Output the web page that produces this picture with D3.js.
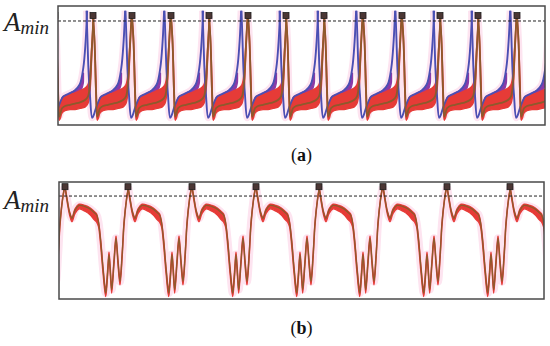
<!DOCTYPE html>
<html>
<head>
<meta charset="utf-8">
<script src="https://cdn.jsdelivr.net/npm/d3@7"></script>
<style>
  body { margin: 0; background: #fff; }
  svg { display: block; }
</style>
</head>
<body>
<div id="chart"></div>
<script>
// red peak times (a) and (b), in samples from left edge of box
const topPeaks = [-3, 35, 74, 113, 151, 190, 228, 266, 305, 344, 382, 420, 459, 498];
const bottomPeaks = [-58, 6, 69, 133, 197, 260, 324, 388, 451, 515];

// panel (a): one cycle, t relative to red peak -> [t, low, mean, high]
const topRed = [
  [0, 90, 92, 93], [1.5, 66, 71, 74], [3, 22, 29, 40], [4.3, 4, 7, 14],
  [5.5, 6, 10, 18], [7, 10, 14, 23], [10, 12, 16, 25], [15, 13, 17, 26],
  [20, 13, 18, 27], [25, 14, 19, 29], [30, 15, 21, 31], [33, 18, 24, 34],
  [35, 28, 36, 44], [36.5, 52, 59, 64], [37.8, 76, 80, 82], [38.6, 90, 92, 93]
];
// panel (a): blue trace, same time base
const topBlue = [
  [-6.5, 96], [-5.5, 71], [-4.5, 46], [-3, 25], [-0.8, 6], [1, 9], [3.3, 15],
  [8.3, 24], [13, 26], [19.7, 29], [24.7, 34], [28.3, 48], [30.6, 70], [32.1, 96]
];
// panel (a): purple traces between blue and red band -> [t, low, high]
const topPurple = [
  [6, 14, 16], [10, 20, 23], [15, 24, 27], [20, 26, 29], [24, 28, 32], [27, 31, 38], [28.5, 36, 44]
];

// panel (b): one cycle -> [t, low, mean, high]
const bottomRed = [
  [0, 95, 96, 97], [2.3, 82, 84, 85], [4.5, 72, 74, 75], [7, 66, 69, 70],
  [10, 73, 76, 77], [14, 77, 80, 81], [20, 75, 79, 80], [25, 72, 77, 78],
  [29, 68, 74, 75], [31.5, 66, 72, 73], [33.4, 62, 66, 67], [35.7, 45, 49, 51],
  [38, 22, 26, 28], [40.7, 2, 5, 8], [42.5, 18, 21, 24], [44, 35, 38, 40],
  [45.5, 18, 21, 24], [46.7, 5, 8, 10], [49, 29, 32, 34], [51, 49, 52, 54],
  [53, 29, 32, 34], [55, 12, 15, 18], [57.3, 37, 40, 42], [59, 62, 65, 66],
  [61.5, 84, 85, 86], [63.6, 95, 96, 97]
];

const aMin = { top: 87.4, bottom: 88 };
const peakMark = { top: 92, bottom: 96 };

const width = 550, height = 346;
const svg = d3.select("#chart").append("svg")
  .attr("width", width).attr("height", height);

const colors = {
  pink: "#fde4f0", red: "#e63b37", brown: "#8d5a2c",
  blue: "#4b4fb3", purple: "#8b3aa6", frame: "#4a4a4a"
};

function panel(cfg) {
  const x = d3.scaleLinear().domain(cfg.xDomain).range([cfg.left, cfg.right]);
  const y = d3.scaleLinear().domain([0, 100]).range([cfg.bottom, cfg.top]);

  const g = svg.append("g");
  g.append("clipPath").attr("id", cfg.id)
    .append("rect")
    .attr("x", cfg.left).attr("y", cfg.top)
    .attr("width", cfg.right - cfg.left).attr("height", cfg.bottom - cfg.top);

  const plot = g.append("g").attr("clip-path", "url(#" + cfg.id + ")");

  const lineMid = d3.line()
    .x(d => x(d.p + d[0])).y(d => y(d[2]))
    .curve(d3.curveCatmullRom.alpha(0.5));
  const bandArea = d3.area()
    .x(d => x(d.p + d[0])).y0(d => y(d[1])).y1(d => y(d[d.length - 1]))
    .curve(d3.curveCatmullRom.alpha(0.5));
  const line2 = d3.line()
    .x(d => x(d.p + d[0])).y(d => y(d[1]))
    .curve(d3.curveCatmullRom.alpha(0.5));

  const shift = (rows, p) => rows.map(r => { const c = r.slice(); c.p = p; return c; });

  cfg.peaks.forEach(p => {
    // faint ensemble halo
    plot.append("path").attr("d", lineMid(shift(cfg.red, p)))
      .attr("fill", "none").attr("stroke", colors.pink)
      .attr("stroke-width", cfg.halo).attr("stroke-linejoin", "round");
    if (cfg.blue) {
      plot.append("path").attr("d", line2(shift(cfg.blue, p)))
        .attr("fill", "none").attr("stroke", colors.pink)
        .attr("stroke-width", cfg.halo).attr("stroke-linejoin", "round");
    }
  });

  cfg.peaks.forEach(p => {
    if (cfg.purple) {
      plot.append("path").attr("d", bandArea(shift(cfg.purple, p)))
        .attr("fill", colors.purple).attr("stroke", colors.purple)
        .attr("stroke-width", 1.2);
    }
    plot.append("path").attr("d", bandArea(shift(cfg.red, p)))
      .attr("fill", colors.red).attr("stroke", colors.red)
      .attr("stroke-width", 1.3).attr("stroke-linejoin", "round");
  });

  if (cfg.blue) {
    cfg.peaks.forEach(p => {
      plot.append("path").attr("d", line2(shift(cfg.blue, p)))
        .attr("fill", "none").attr("stroke", colors.blue)
        .attr("stroke-width", 1.9).attr("stroke-linejoin", "round");
    });
  }

  cfg.peaks.forEach(p => {
    plot.append("path").attr("d", lineMid(shift(cfg.red, p)))
      .attr("fill", "none").attr("stroke", colors.brown)
      .attr("stroke-width", cfg.midWidth).attr("stroke-linejoin", "round");
  });

  // threshold line
  g.append("line")
    .attr("x1", cfg.left).attr("x2", cfg.right)
    .attr("y1", y(cfg.aMin)).attr("y2", y(cfg.aMin))
    .attr("stroke", "#222").attr("stroke-width", 1)
    .attr("stroke-dasharray", "3,2");

  // peak markers
  plot.selectAll("rect.mark")
    .data(cfg.peaks)
    .enter().append("rect")
    .attr("class", "mark")
    .attr("x", d => x(d) - 3).attr("y", y(cfg.mark) - 3)
    .attr("width", 6).attr("height", 6)
    .attr("fill", "#4b3634").attr("stroke", "#1e1e1e").attr("stroke-width", 0.8);

  // frame
  g.append("rect")
    .attr("x", cfg.left).attr("y", cfg.top)
    .attr("width", cfg.right - cfg.left).attr("height", cfg.bottom - cfg.top)
    .attr("fill", "none").attr("stroke", colors.frame).attr("stroke-width", 1.5);

  // A_min label
  const lab = svg.append("text")
    .attr("x", 4).attr("y", cfg.labelY)
    .attr("font-family", "Liberation Serif, serif")
    .attr("font-style", "italic").attr("fill", "#222");
  lab.append("tspan").attr("font-size", 27).text("A");
  lab.append("tspan").attr("font-size", 19).attr("dy", 3).text("min");

  // caption
  const cap = svg.append("text")
    .attr("x", (cfg.left + cfg.right) / 2).attr("y", cfg.capY)
    .attr("text-anchor", "middle")
    .attr("font-family", "Liberation Serif, serif")
    .attr("font-size", 18).attr("fill", "#111");
  cap.append("tspan").text("(");
  cap.append("tspan").attr("font-weight", "bold").text(cfg.caption);
  cap.append("tspan").text(")");
}

panel({
  id: "clipA", left: 58, right: 545, top: 6, bottom: 125,
  xDomain: [0, 487], peaks: topPeaks, red: topRed, blue: topBlue, purple: topPurple,
  aMin: aMin.top, mark: peakMark.top, halo: 7, midWidth: 1.8,
  labelY: 31, capY: 161, caption: "a"
});

panel({
  id: "clipB", left: 59, right: 544, top: 182, bottom: 299,
  xDomain: [0, 485], peaks: bottomPeaks, red: bottomRed,
  aMin: aMin.bottom, mark: peakMark.bottom, halo: 8, midWidth: 1.3,
  labelY: 209, capY: 334, caption: "b"
});
</script>
</body>
</html>
